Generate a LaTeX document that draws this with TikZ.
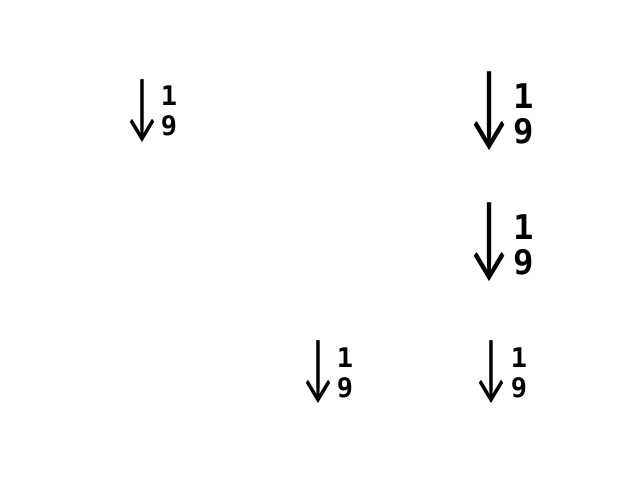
\documentclass[tikz,border=0pt]{standalone}
\usepackage{fontspec}
\newfontfamily\markfont{DejaVu Sans Mono}
\newfontfamily\arrfont{Lato}
\usetikzlibrary{positioning}
\newcommand\narrow[1]{\scalebox{0.6}[1]{#1}}
\begin{document}
\begin{tikzpicture}[
  x=1pt,y=1pt,
  arrsym/.style={inner sep=0pt,font=\arrfont\fontsize{#1}{#1}\selectfont},
  digits/.style 2 args={inner sep=0pt,align=center,font=\markfont\bfseries\fontsize{#1}{#2}\selectfont},
]
\useasboundingbox (0,0) rectangle (640,480);
\fill[white] (0,0) rectangle (640,480);

% row 1
\node[arrsym=71] (a1) at (142,369) {\narrow{↓}};
\node[digits={27}{30}] (d1) at (169,369) {1\\9};
\node[arrsym=89] (a2) at (490,369) {\narrow{↓}};
\node[digits={34}{35}] (d2) at (524,366) {1\\9};

% row 2
\node[arrsym=89] (a3) at (490,237.5) {\narrow{↓}};
\node[digits={34}{35}] (d3) at (524,235) {1\\9};

% row 3
\node[arrsym=71] (a4) at (318,107.5) {\narrow{↓}};
\node[digits={27}{30}] (d4) at (345,107.5) {1\\9};
\node[arrsym=71] (a5) at (491,107.5) {\narrow{↓}};
\node[digits={27}{30}] (d5) at (519,107.5) {1\\9};
\end{tikzpicture}
\end{document}
